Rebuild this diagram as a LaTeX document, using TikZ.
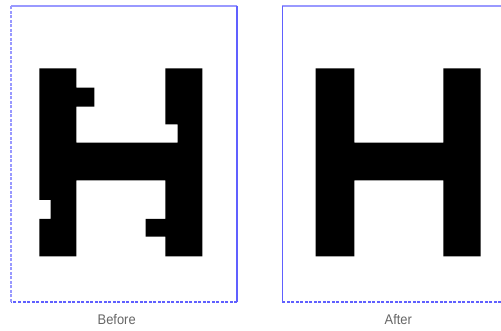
\documentclass[tikz,border=0pt]{standalone}
\usepackage{fontspec}
\setmainfont{Liberation Sans}
\definecolor{fr}{HTML}{6060FF}
\definecolor{frl}{HTML}{9999FF}
\definecolor{lab}{HTML}{666666}
\begin{document}
\begin{tikzpicture}[x=1pt,y=-1pt,
  ink/.style={fill=black,draw=none},
  dashedge/.style={draw=fr,line width=1.6pt,dash pattern=on 3pt off 1.5pt},
  solidedge/.style={draw=fr,line width=1.6pt},
  lightedge/.style={draw=frl,line width=1.8pt},
  caption/.style={text=lab,font=\fontsize{14}{14}\selectfont,inner sep=0pt,xscale=0.92}]
\useasboundingbox (0,0) rectangle (501,331);
\fill[white] (0,0) rectangle (501,331);
% Before frame
\coordinate (b1) at (11,5.7);
\coordinate (b2) at (237,5.7);
\coordinate (b3) at (237,302);
\coordinate (b4) at (11,302);
\draw[lightedge] (b1) -- (b2);
\draw[solidedge] (b2) -- (b3);
\draw[dashedge] (b3) -- (b4);
\draw[dashedge,draw=frl] (b4) -- (b1);
% After frame
\coordinate (a1) at (282.3,5.7);
\coordinate (a2) at (501,5.7);
\coordinate (a3) at (501,302);
\coordinate (a4) at (282.3,302);
\draw[lightedge] (a1) -- (a2);
\draw[dashedge] (a3) -- (a4);
\draw[solidedge] (a4) -- (a1);
% Before H
\fill[ink] (39.3,68.3) -- (76.3,68.3) -- (76.3,87.7) -- (94.3,87.7) -- (94.3,106.7)
  -- (76.3,106.7) -- (76.3,142.7) -- (177.7,142.7) -- (177.7,124.3) -- (165.3,124.3)
  -- (165.3,68.3) -- (202.3,68.3) -- (202.3,256.3) -- (165.3,256.3) -- (165.3,236.7)
  -- (145.7,236.7) -- (145.7,219) -- (165.3,219) -- (165.3,180.3) -- (76.3,180.3)
  -- (76.3,256.3) -- (39.3,256.3) -- (39.3,219) -- (50.7,219) -- (50.7,200)
  -- (39.3,200) -- cycle;
% After H
\fill[ink] (315.7,68.3) -- (354.3,68.3) -- (354.3,142.7) -- (443.3,142.7) -- (443.3,68.3)
  -- (480.7,68.3) -- (480.7,256.3) -- (443.3,256.3) -- (443.3,180.3) -- (354.3,180.3)
  -- (354.3,256.3) -- (315.7,256.3) -- cycle;
% captions
\node[caption] (before) at (116.7,320) {Before};
\node[caption] (after) at (398.3,320) {After};
\end{tikzpicture}
\end{document}
